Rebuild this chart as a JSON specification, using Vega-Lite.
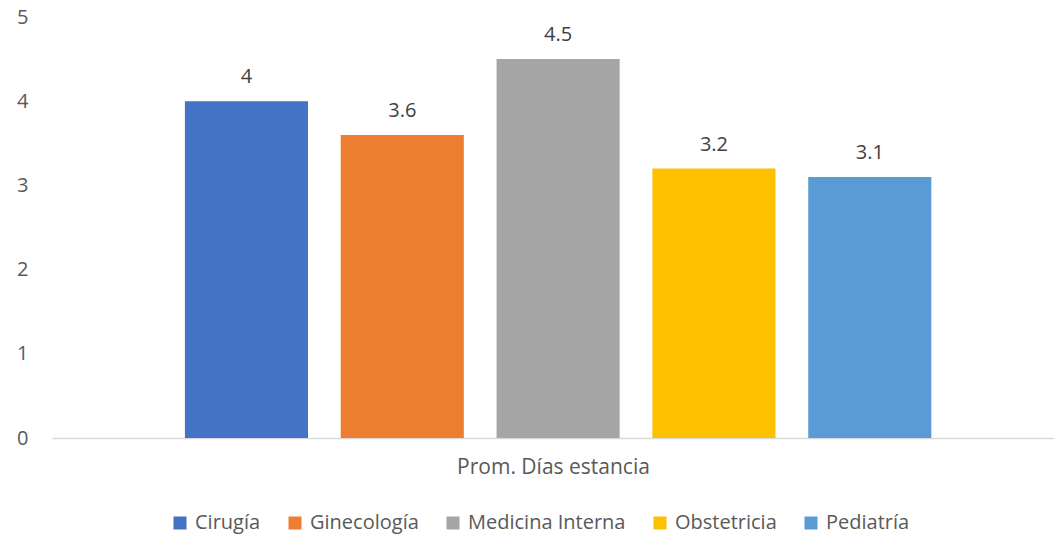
{
  "$schema": "https://vega.github.io/schema/vega-lite/v6.json",
  "width": 1002,
  "height": 421,
  "autosize": {"type": "none"},
  "padding": {"left": 52, "top": 17, "right": 0, "bottom": 98},
  "background": "white",
  "config": {
    "view": {"stroke": null},
    "font": "Open Sans"
  },
  "data": {
    "values": [
      {"dept": "Cirugía", "value": 4},
      {"dept": "Ginecología", "value": 3.6},
      {"dept": "Medicina Interna", "value": 4.5},
      {"dept": "Obstetricia", "value": 3.2},
      {"dept": "Pediatría", "value": 3.1}
    ]
  },
  "encoding": {
    "x": {
      "field": "dept",
      "type": "nominal",
      "sort": null,
      "scale": {"paddingInner": 0.21, "paddingOuter": 0.82, "align": 0.52},
      "axis": {
        "labels": false,
        "ticks": false,
        "domainColor": "#D9D9D9",
        "domainWidth": 1.5,
        "title": "Prom. Días estancia",
        "titleFontSize": 21,
        "titleFontWeight": "normal",
        "titleColor": "#595959",
        "titlePadding": 18
      }
    },
    "y": {
      "field": "value",
      "type": "quantitative",
      "scale": {"domain": [0, 5]},
      "axis": {
        "values": [0, 1, 2, 3, 4, 5],
        "domain": false,
        "ticks": false,
        "grid": false,
        "title": null,
        "labelFontSize": 20,
        "labelColor": "#595959",
        "labelPadding": 24
      }
    }
  },
  "layer": [
    {
      "mark": {"type": "bar"},
      "encoding": {
        "color": {
          "field": "dept",
          "type": "nominal",
          "sort": null,
          "scale": {
            "domain": ["Cirugía", "Ginecología", "Medicina Interna", "Obstetricia", "Pediatría"],
            "range": ["#4472C4", "#ED7D31", "#A5A5A5", "#FFC000", "#5B9BD5"]
          },
          "legend": {
            "title": null,
            "orient": "none",
            "legendX": 118,
            "legendY": 496,
            "padding": 0,
            "direction": "horizontal",
            "columns": 5,
            "symbolType": "square",
            "symbolSize": 169,
            "symbolStrokeWidth": 0,
            "labelFontSize": 20,
            "labelColor": "#595959",
            "labelOffset": 5,
            "columnPadding": 24
          }
        }
      }
    },
    {
      "mark": {"type": "text", "dy": -24, "fontSize": 20, "color": "#404040", "baseline": "middle"},
      "encoding": {
        "text": {"field": "value", "type": "quantitative"}
      }
    }
  ]
}
